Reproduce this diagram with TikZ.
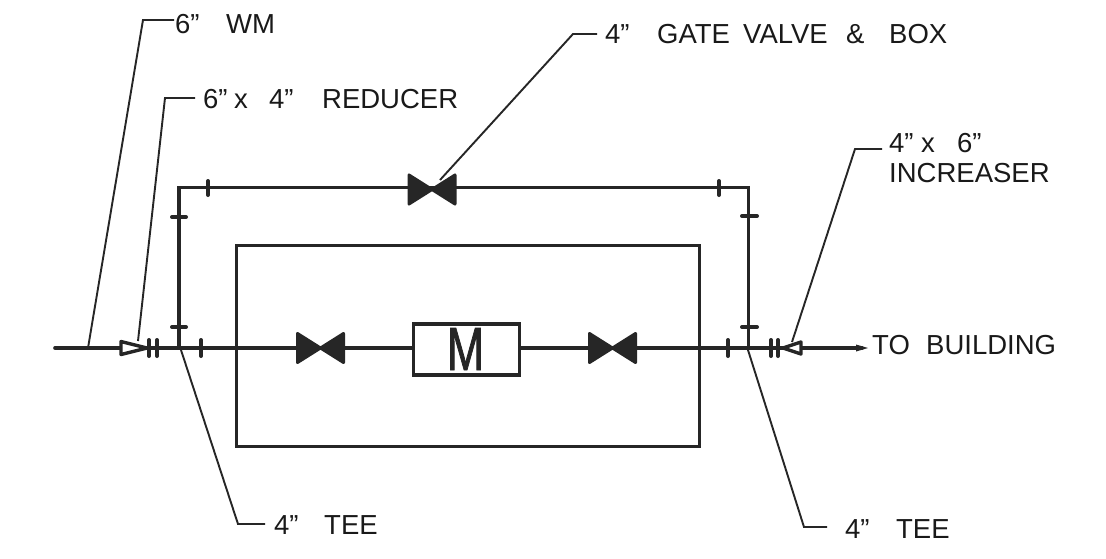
\documentclass[tikz,border=0pt]{standalone}
\usepackage{graphicx}
\usepackage{fontspec}
\setmainfont{Liberation Sans}
\newfontfamily\meterfont[FakeBold=1.6]{Liberation Sans}
\newcommand{\fixw}[2]{\makebox[#1pt][l]{#2}}
\begin{document}
\begin{tikzpicture}[x=1pt,y=-1pt,
  pipe/.style={line width=3.6pt,black!85},
  lead/.style={line width=1.9pt,black!85},
  joint/.style={line width=4pt,black!85,line cap=round},
  lab/.style={anchor=base west,inner sep=0pt,font=\fontsize{27.5}{29}\selectfont,text=black!90,align=left},
  valve/.style={fill=black!85,draw=black!85,line width=3pt,line join=round},
  reducer/.style={line width=3.4pt,black!85,fill=white,line join=round},
  meter/.style={draw=black!85,line width=3.6pt,fill=white,minimum width=106pt,minimum height=51pt,inner sep=0pt}]
\useasboundingbox (0,0) rectangle (1106,558);
\fill[white] (0,0) rectangle (1106,558);
% key points
\coordinate (w) at (55,348);
\coordinate (e) at (862,348);
\coordinate (tl) at (179,348);
\coordinate (tr) at (748.5,348);
\coordinate (cl) at (179,187.5);
\coordinate (cr) at (748.5,187.5);
% pipes
\draw[pipe,line cap=round] (w) -- (e);
\draw[pipe,line join=miter] (tl) -- (cl) -- (cr) -- (tr);
\fill[black!85] (856,344.5) -- (868,348) -- (856,351.5) -- cycle;
% enclosure
\node[draw=black!85,line width=3.6pt,minimum width=463pt,minimum height=201pt,inner sep=0pt] (box) at (468,346) {};
% meter
\node[meter] (m) at (466.5,349.5) {};
\node[inner sep=0pt,anchor=base,font=\meterfont\fontsize{61}{61}\selectfont,text=black!85] (mt) at (465.5,370) {\scalebox{0.74}[1]{M}};
% valves
\foreach \n/\x/\y in {vt/432/189.5,vl/320.5/348,vr/612.5/348}{
  \coordinate (\n) at (\x,\y);
  \draw[valve] (\x-23,\y-14.5) -- (\x,\y) -- (\x+23,\y-14.5) -- (\x+23,\y+14.5) -- (\x,\y) -- (\x-23,\y+14.5) -- cycle;
}
% joints
\foreach \x in {149,157,201,728,771,778}{\draw[joint] (\x,340) -- (\x,356);}
\foreach \x in {208,719}{\draw[joint] (\x,181) -- (\x,195);}
\foreach \y in {217,327}{\draw[joint] (172,\y) -- (186,\y);}
\foreach \y in {216,327}{\draw[joint] (742,\y) -- (757,\y);}
% reducers
\draw[reducer] (121,341.5) -- (147,348) -- (121,354.5) -- cycle;
\draw[reducer] (801,342) -- (783,348) -- (801,354) -- cycle;
% labels
\node[lab] (t1) at (175,33) {\fixw{51}{6”}WM};
\node[lab] (t2) at (203,108) {\fixw{31}{6”}\fixw{35}{x}\fixw{53}{4”}REDUCER};
\node[lab] (t3) at (605,43) {\fixw{52}{4”}\fixw{86}{GATE}\fixw{103}{VALVE}\fixw{43}{\&}BOX};
\node[lab] (t4) at (889,152) {\fixw{32}{4”}\fixw{36}{x}6”};
\node[lab] (t4b) at (889,182) {INCREASER};
\node[lab] (t5) at (872,354) {\fixw{54}{TO}BUILDING};
\node[lab] (t6) at (274,534) {\fixw{50}{4”}TEE};
\node[lab] (t7) at (845,538) {\fixw{51}{4”}TEE};
% leaders
\coordinate (l1) at (88,348);
\coordinate (l2) at (138,341);
\coordinate (l3) at (440,180);
\coordinate (l4) at (792,342);
\coordinate (l6) at (181,350);
\coordinate (l7) at (748,350);
\draw[lead] (l1) -- (143,20) -- (174,20);
\draw[lead] (l2) -- (165,98) -- (195,98);
\draw[lead] (l3) -- (573,34) -- (597,34);
\draw[lead] (l4) -- (855,149) -- (882,149);
\draw[lead] (l6) -- (238,524) -- (265,524);
\draw[lead] (l7) -- (804,527) -- (827,527);
\end{tikzpicture}
\end{document}
